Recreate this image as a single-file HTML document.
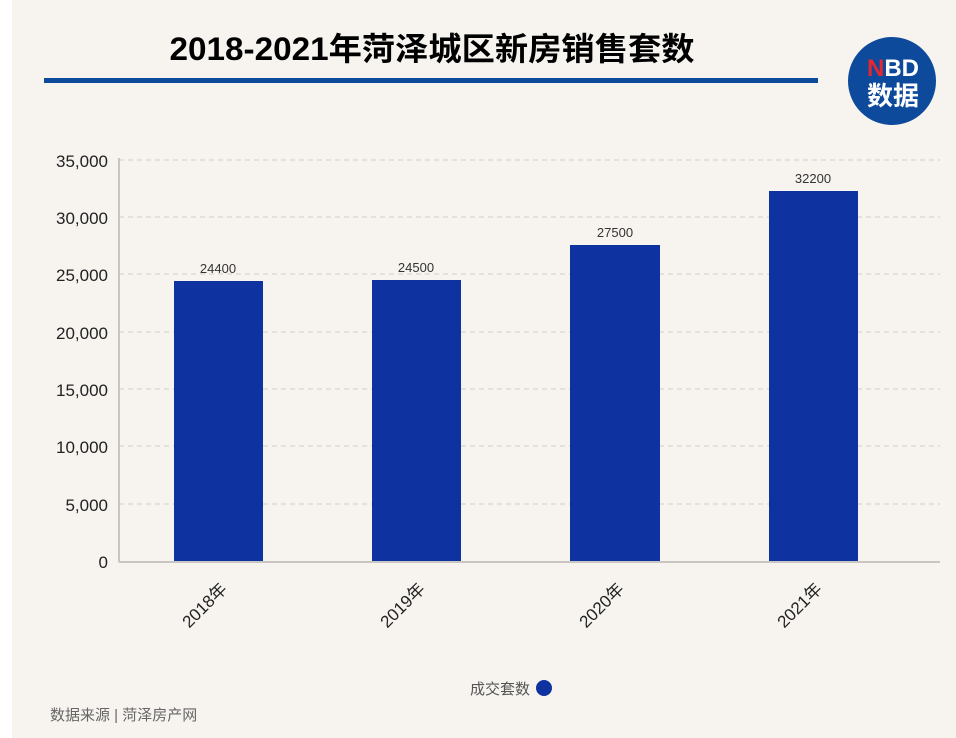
<!DOCTYPE html>
<html><head><meta charset="utf-8"><style>
html,body{margin:0;padding:0;background:#fff;}
svg{display:block;font-family:"Liberation Sans","Noto Sans CJK SC",sans-serif;}
</style></head><body>
<svg width="956" height="738" viewBox="0 0 956 738" xmlns="http://www.w3.org/2000/svg">
<rect x="12" y="0" width="944" height="738" fill="#f7f4f0"/>
<text x="432" y="60" text-anchor="middle" font-size="32" font-weight="bold" fill="#000" textLength="525" lengthAdjust="spacingAndGlyphs" font-family="'Liberation Sans','Noto Sans CJK SC',sans-serif">2018-2021年菏泽城区新房销售套数</text>
<rect x="44" y="78" width="774" height="5" fill="#0d4a9c"/>
<circle cx="892" cy="81" r="44" fill="#0d4a9c"/>
<text x="893" y="76" text-anchor="middle" font-size="24" font-weight="bold" fill="#fff"><tspan fill="#e8262d">N</tspan>BD</text>
<text x="893" y="105" text-anchor="middle" font-size="26" font-weight="bold" fill="#fff">数据</text>
<g stroke="#d0cdc9" stroke-dasharray="5,4" stroke-width="1">
<line x1="119" y1="160" x2="940" y2="160"/>
<line x1="119" y1="217" x2="940" y2="217"/>
<line x1="119" y1="274" x2="940" y2="274"/>
<line x1="119" y1="332" x2="940" y2="332"/>
<line x1="119" y1="389" x2="940" y2="389"/>
<line x1="119" y1="446" x2="940" y2="446"/>
<line x1="119" y1="504" x2="940" y2="504"/>
</g>
<line x1="119" y1="158" x2="119" y2="562" stroke="#c8c5c2" stroke-width="2"/>
<g font-size="17" fill="#222" text-anchor="end">
<text x="108" y="167">35,000</text>
<text x="108" y="224">30,000</text>
<text x="108" y="281">25,000</text>
<text x="108" y="339">20,000</text>
<text x="108" y="396">15,000</text>
<text x="108" y="453">10,000</text>
<text x="108" y="511">5,000</text>
<text x="108" y="568">0</text>
</g>
<g fill="#0e32a0">
<rect x="174" y="281" width="89" height="280"/>
<rect x="372" y="280" width="89" height="281"/>
<rect x="570" y="245" width="90" height="316"/>
<rect x="769" y="191" width="89" height="370"/>
</g>
<line x1="119" y1="562" x2="940" y2="562" stroke="#c8c5c2" stroke-width="2"/>
<g font-size="13" fill="#333" text-anchor="middle">
<text x="218" y="273">24400</text>
<text x="416" y="272">24500</text>
<text x="615" y="237">27500</text>
<text x="813" y="183">32200</text>
</g>
<g font-size="17" fill="#222" text-anchor="end">
<text transform="translate(228,590) rotate(-45)">2018年</text>
<text transform="translate(426,590) rotate(-45)">2019年</text>
<text transform="translate(625,590) rotate(-45)">2020年</text>
<text transform="translate(823,590) rotate(-45)">2021年</text>
</g>
<text x="530" y="694" text-anchor="end" font-size="15" fill="#555">成交套数</text>
<circle cx="544" cy="688" r="8" fill="#0e32a0"/>
<text x="50" y="720" font-size="15" fill="#666">数据来源 | 菏泽房产网</text>
</svg>
</body></html>
